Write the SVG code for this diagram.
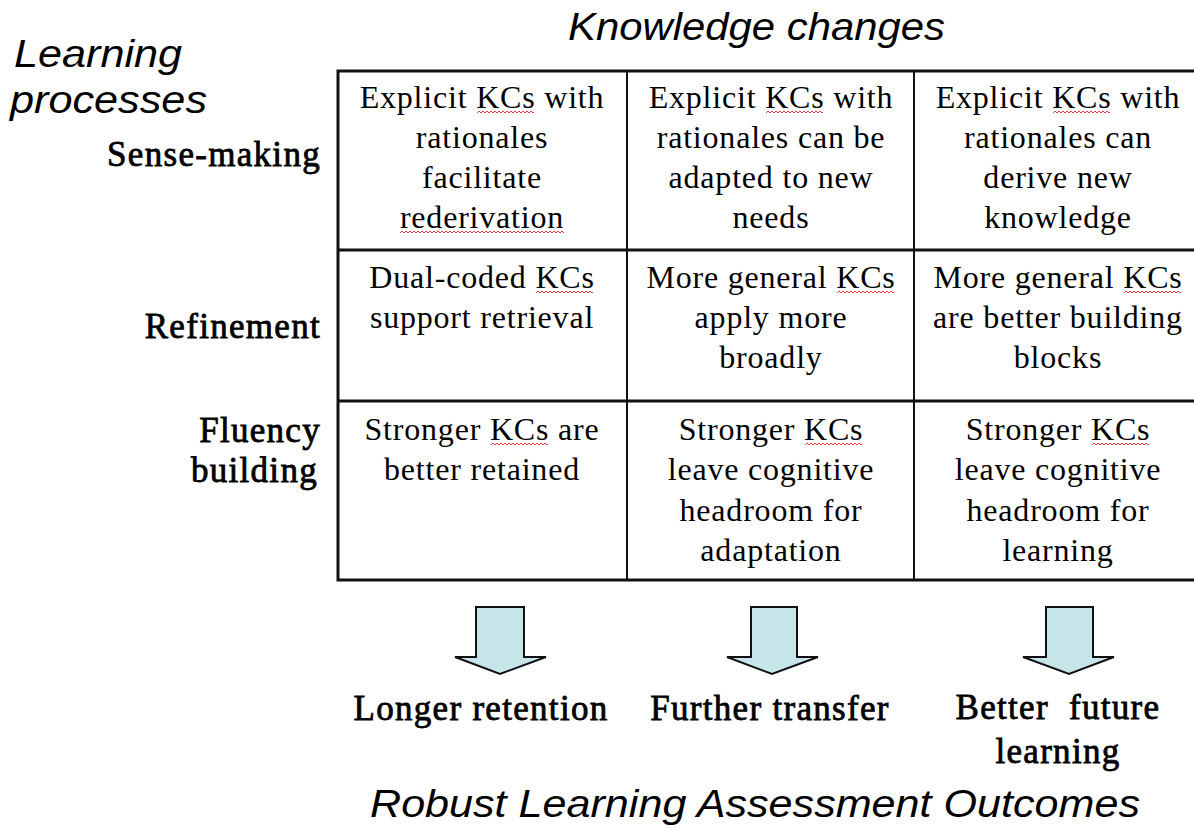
<svg xmlns="http://www.w3.org/2000/svg" width="1194" height="828" viewBox="0 0 1194 828">
<defs>
<pattern id="sq" patternUnits="userSpaceOnUse" width="4" height="4">
<path d="M0,3 L2,1 L4,3" fill="none" stroke="#e8252b" stroke-width="0.9"/>
</pattern>
<style>
.sans{font-family:"Liberation Sans",Arial,sans-serif;font-style:italic;font-size:39px;fill:#000}
.cell{font-family:"Liberation Serif","Times New Roman",serif;font-size:32px;letter-spacing:0.8px;fill:#000;text-anchor:middle}
.lab{font-family:"Liberation Serif","Times New Roman",serif;font-size:35px;letter-spacing:1.3px;fill:#000;stroke:#000;stroke-width:0.8px}
.grid{fill:none;stroke:#111;stroke-width:3}
.inner{fill:none;stroke:#111;stroke-width:2}
.arrow{fill:#c6e5e9;stroke:#111;stroke-width:2;stroke-linejoin:miter}
</style>
</defs>
<rect width="1194" height="828" fill="#fff"/>

<g id="title-knowledge">
<text class="sans" x="568" y="40" textLength="377" lengthAdjust="spacingAndGlyphs">Knowledge changes</text>
</g>
<g id="title-learning">
<text class="sans" x="14" y="67" textLength="168" lengthAdjust="spacingAndGlyphs">Learning</text>
<text class="sans" x="10" y="113" textLength="197" lengthAdjust="spacingAndGlyphs">processes</text>
</g>

<g id="row-labels">
<text class="lab" x="321" y="166" text-anchor="end">Sense-making</text>
<text class="lab" x="321" y="338" text-anchor="end">Refinement</text>
<text class="lab" x="321" y="442" text-anchor="end">Fluency</text>
<text class="lab" x="318" y="482" text-anchor="end">building</text>
</g>

<g id="grid">
<rect class="grid" x="338" y="71" width="870" height="509"/>
<line class="grid" x1="338" y1="250" x2="1208" y2="250"/>
<line class="grid" x1="338" y1="401" x2="1208" y2="401"/>
<line class="inner" x1="627" y1="71" x2="627" y2="580"/>
<line class="inner" x1="914" y1="71" x2="914" y2="580"/>
</g>

<g id="cell-r1c1">
<text class="cell" x="482" y="108">Explicit KCs with</text>
<text class="cell" x="482" y="148">rationales</text>
<text class="cell" x="482" y="188">facilitate</text>
<text class="cell" x="482" y="228">rederivation</text>
</g>
<g id="cell-r1c2">
<text class="cell" x="771" y="108">Explicit KCs with</text>
<text class="cell" x="771" y="148">rationales can be</text>
<text class="cell" x="771" y="188">adapted to new</text>
<text class="cell" x="771" y="228">needs</text>
</g>
<g id="cell-r1c3">
<text class="cell" x="1058" y="108">Explicit KCs with</text>
<text class="cell" x="1058" y="148">rationales can</text>
<text class="cell" x="1058" y="188">derive new</text>
<text class="cell" x="1058" y="228">knowledge</text>
</g>
<g id="cell-r2c1">
<text class="cell" x="482" y="288">Dual-coded KCs</text>
<text class="cell" x="482" y="328">support retrieval</text>
</g>
<g id="cell-r2c2">
<text class="cell" x="771" y="288">More general KCs</text>
<text class="cell" x="771" y="328">apply more</text>
<text class="cell" x="771" y="368">broadly</text>
</g>
<g id="cell-r2c3">
<text class="cell" x="1058" y="288">More general KCs</text>
<text class="cell" x="1058" y="328">are better building</text>
<text class="cell" x="1058" y="368">blocks</text>
</g>
<g id="cell-r3c1">
<text class="cell" x="482" y="440">Stronger KCs are</text>
<text class="cell" x="482" y="480">better retained</text>
</g>
<g id="cell-r3c2">
<text class="cell" x="771" y="440">Stronger KCs</text>
<text class="cell" x="771" y="480">leave cognitive</text>
<text class="cell" x="771" y="521">headroom for</text>
<text class="cell" x="771" y="561">adaptation</text>
</g>
<g id="cell-r3c3">
<text class="cell" x="1058" y="440">Stronger KCs</text>
<text class="cell" x="1058" y="480">leave cognitive</text>
<text class="cell" x="1058" y="521">headroom for</text>
<text class="cell" x="1058" y="561">learning</text>
</g>

<g id="spellcheck-marks">
<rect transform="translate(477,110)" width="57" height="4" fill="url(#sq)"/>
<rect transform="translate(766,110)" width="57" height="4" fill="url(#sq)"/>
<rect transform="translate(1053,110)" width="57" height="4" fill="url(#sq)"/>
<rect transform="translate(400,230)" width="164" height="4" fill="url(#sq)"/>
<rect transform="translate(536,290)" width="57" height="4" fill="url(#sq)"/>
<rect transform="translate(837,290)" width="57" height="4" fill="url(#sq)"/>
<rect transform="translate(1124,290)" width="57" height="4" fill="url(#sq)"/>
<rect transform="translate(491,442)" width="57" height="4" fill="url(#sq)"/>
<rect transform="translate(805,442)" width="57" height="4" fill="url(#sq)"/>
<rect transform="translate(1092,442)" width="57" height="4" fill="url(#sq)"/>
</g>

<g id="connectors">
<path class="arrow" d="M476,607 H524 V657 H546 L500,674 L455,657 H476 Z"/>
<path class="arrow" d="M751,607 H797 V657 H818 L772,674 L727,657 H751 Z"/>
<path class="arrow" d="M1046,607 H1093 V657 H1114 L1069,674 L1023,657 H1046 Z"/>
</g>

<g id="outcome-retention">
<text class="lab" x="481" y="720" text-anchor="middle">Longer retention</text>
</g>
<g id="outcome-transfer">
<text class="lab" x="770" y="720" text-anchor="middle">Further transfer</text>
</g>
<g id="outcome-future">
<text class="lab" x="1058" y="719" text-anchor="middle" xml:space="preserve">Better  future</text>
<text class="lab" x="1058" y="763" text-anchor="middle">learning</text>
</g>

<g id="footer">
<text class="sans" x="370" y="817" textLength="770" lengthAdjust="spacingAndGlyphs">Robust Learning Assessment Outcomes</text>
</g>
</svg>
